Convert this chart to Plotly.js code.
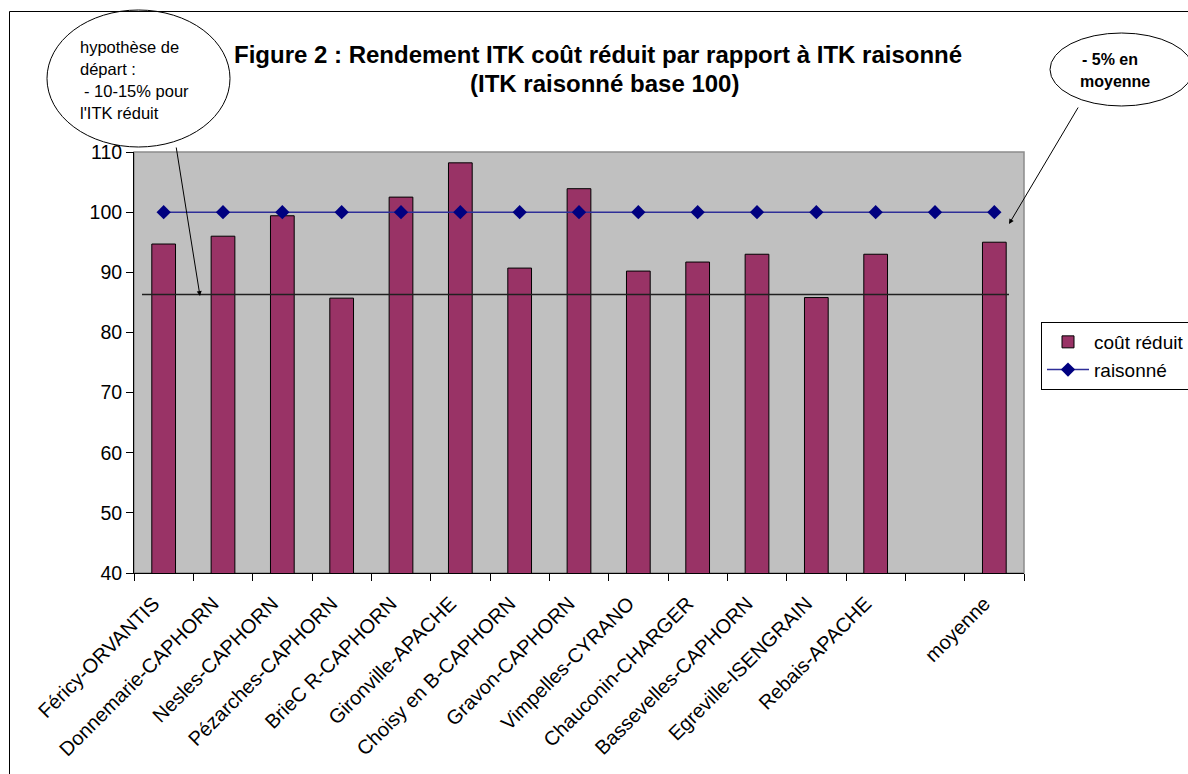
<!DOCTYPE html>
<html>
<head>
<meta charset="utf-8">
<script src="https://cdn.plot.ly/plotly-3.0.1.min.js"></script>
<style>
  html, body { margin: 0; padding: 0; background: #ffffff; }
  #chart { width: 1188px; height: 774px; }
</style>
</head>
<body>
<div id="chart"></div>
<script>
// Essais : rendement de l'ITK coût réduit, ITK raisonné = base 100
const categories = [
  "Féricy-ORVANTIS", "Donnemarie-CAPHORN", "Nesles-CAPHORN", "Pézarches-CAPHORN",
  "BrieC R-CAPHORN", "Gironville-APACHE", "Choisy en B-CAPHORN", "Gravon-CAPHORN",
  "Vimpelles-CYRANO", "Chauconin-CHARGER", "Bassevelles-CAPHORN", "Egreville-ISENGRAIN",
  "Rebais-APACHE", " ", "moyenne"
];
const coutReduit = [94.7, 96.0, 99.4, 85.7, 102.5, 108.2, 90.7, 103.9, 90.2, 91.7, 93.0, 85.8, 93.0, null, 95.0];
const raisonne   = [100, 100, 100, 100, 100, 100, 100, 100, 100, 100, 100, 100, 100, 100, 100];
// hypothèse de départ : - 10-15 % pour l'ITK réduit
const hypothese = 86.3;
const yTicks = [40, 50, 60, 70, 80, 90, 100, 110];

const FONT = "Liberation Sans, Arial, sans-serif";

// figure size and plot-area margins (pixels)
const W = 1188, H = 774;
const M = { l: 134, r: 164, t: 152, b: 201, autoexpand: false };
const PW = W - M.l - M.r, PH = H - M.t - M.b;
// pixel position -> paper coordinates
const px = v => (v - M.l) / PW;
const py = v => (H - M.b - v) / PH;

const traces = [
  {
    type: "bar",
    name: "coût réduit",
    x: categories,
    y: coutReduit,
    width: 0.4,
    marker: { color: "#993366", line: { color: "#000000", width: 1 } },
    hoverinfo: "x+y"
  },
  {
    type: "scatter",
    mode: "lines+markers",
    name: "raisonné",
    x: categories,
    y: raisonne,
    line: { color: "#2e2e98", width: 1.5 },
    marker: { symbol: "diamond", size: 11, color: "#000080" },
    hoverinfo: "x+y"
  }
];

const layout = {
  width: W, height: H,
  margin: M,
  paper_bgcolor: "#ffffff",
  plot_bgcolor: "#c0c0c0",
  font: { family: FONT, size: 19, color: "#000000" },
  showlegend: true,
  legend: {
    x: px(1041), y: py(322), xanchor: "left", yanchor: "top",
    bgcolor: "#ffffff", bordercolor: "#000000", borderwidth: 1,
    font: { family: FONT, size: 19, color: "#000000" },
    itemwidth: 42,
    tracegroupgap: 0
  },
  xaxis: {
    type: "category",
    categoryorder: "array",
    categoryarray: categories,
    range: [-0.5, categories.length - 0.5],
    showline: true, linecolor: "#000000", linewidth: 1,
    ticks: "outside", ticklen: 7, tickcolor: "#000000", tickwidth: 1,
    tickson: "boundaries",
    tickangle: -45,
    ticklabelshift: -10,
    ticklabelstandoff: 10,
    tickfont: { family: FONT, size: 20, color: "#000000" },
    showgrid: false, zeroline: false, fixedrange: true, automargin: false
  },
  yaxis: {
    range: [40, 110],
    tickvals: yTicks,
    ticktext: yTicks.map(String),
    showline: true, linecolor: "#000000", linewidth: 1,
    ticks: "outside", ticklen: 7, tickcolor: "#000000", tickwidth: 1,
    tickfont: { family: FONT, size: 19.5, color: "#000000" },
    showgrid: false, zeroline: false, fixedrange: true, automargin: false
  },
  shapes: [
    // grey frame of the plot area (top and right edges)
    { type: "rect", xref: "paper", yref: "paper", x0: 0, x1: 1, y0: 0, y1: 1,
      line: { color: "#8c8c8c", width: 1.5 }, layer: "below" },
    // hypothesis line
    { type: "line", xref: "paper", yref: "y", x0: px(142), x1: px(1009), y0: hypothese, y1: hypothese,
      line: { color: "#202020", width: 1.5 } },
    // chart-area border
    { type: "line", xref: "paper", yref: "paper", x0: px(9.5), x1: px(1200), y0: py(11.5), y1: py(11.5),
      line: { color: "#000000", width: 1 } },
    { type: "line", xref: "paper", yref: "paper", x0: px(9.5), x1: px(9.5), y0: py(11.5), y1: py(800),
      line: { color: "#000000", width: 1 } },
    // callout bubbles
    { type: "circle", xref: "paper", yref: "paper", x0: px(47), x1: px(230), y0: py(147), y1: py(10),
      line: { color: "#000000", width: 1 } },
    { type: "circle", xref: "paper", yref: "paper", x0: px(1050), x1: px(1193), y0: py(106), y1: py(33),
      fillcolor: "#ffffff", line: { color: "#000000", width: 1 } }
  ],
  annotations: [
    // title
    { xref: "paper", yref: "paper", x: px(598), y: py(55), xanchor: "center", yanchor: "middle",
      text: "<b>Figure 2 : Rendement ITK coût réduit par rapport à ITK raisonné</b>",
      showarrow: false, font: { family: FONT, size: 24, color: "#000000" } },
    { xref: "paper", yref: "paper", x: px(604), y: py(84), xanchor: "center", yanchor: "middle",
      text: "<b>(ITK raisonné base 100)</b>",
      showarrow: false, font: { family: FONT, size: 24, color: "#000000" } },
    // left callout text
    { xref: "paper", yref: "paper", x: px(78), y: py(47), xanchor: "left", yanchor: "middle",
      text: "hypothèse de", showarrow: false, font: { family: FONT, size: 16.5 } },
    { xref: "paper", yref: "paper", x: px(78), y: py(69), xanchor: "left", yanchor: "middle",
      text: "départ :", showarrow: false, font: { family: FONT, size: 16.5 } },
    { xref: "paper", yref: "paper", x: px(82), y: py(91), xanchor: "left", yanchor: "middle",
      text: "- 10-15% pour", showarrow: false, font: { family: FONT, size: 16.5 } },
    { xref: "paper", yref: "paper", x: px(78), y: py(113), xanchor: "left", yanchor: "middle",
      text: "l'ITK réduit", showarrow: false, font: { family: FONT, size: 16.5 } },
    // right callout text
    { xref: "paper", yref: "paper", x: px(1080), y: py(60), xanchor: "left", yanchor: "middle",
      text: "<b>- 5% en</b>", showarrow: false, font: { family: FONT, size: 16 } },
    { xref: "paper", yref: "paper", x: px(1078), y: py(82), xanchor: "left", yanchor: "middle",
      text: "<b>moyenne</b>", showarrow: false, font: { family: FONT, size: 16 } },
    // callout pointers
    { xref: "paper", yref: "paper", x: px(200), y: py(296), ax: -24, ay: -150,
      text: "", showarrow: true, arrowhead: 2, arrowsize: 1, arrowwidth: 1, arrowcolor: "#000000" },
    { xref: "paper", yref: "paper", x: px(1009), y: py(224), ax: 70, ay: -118,
      text: "", showarrow: true, arrowhead: 2, arrowsize: 1, arrowwidth: 1, arrowcolor: "#000000" }
  ]
};

Plotly.newPlot("chart", traces, layout, { displayModeBar: false, staticPlot: true });
</script>
</body>
</html>
